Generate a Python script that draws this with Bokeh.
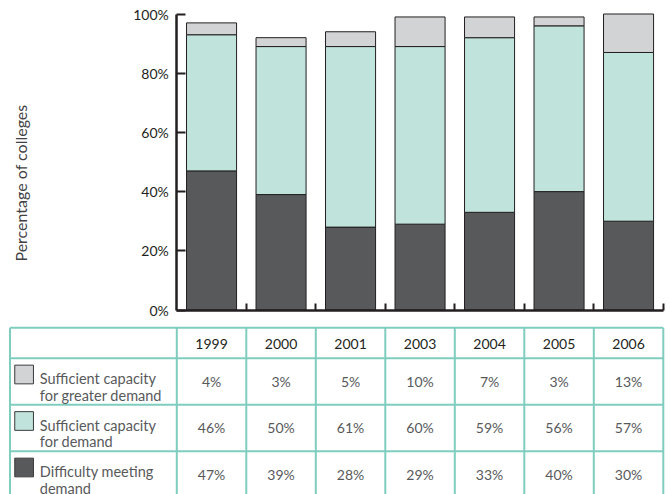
from bokeh.plotting import figure
from bokeh.models import Range1d, FixedTicker, Label, LinearAxis
from bokeh.embed import file_html
from bokeh.resources import INLINE
from bokeh.core.properties import value

# ---- data ----
years = ["1999", "2000", "2001", "2003", "2004", "2005", "2006"]
greater_demand = [4, 3, 5, 10, 7, 3, 13]
sufficient_demand = [46, 50, 61, 60, 59, 56, 57]
difficulty = [47, 39, 28, 29, 33, 40, 30]
series_line1 = ["Sufficient capacity", "Sufficient capacity", "Difficulty meeting"]
series_line2 = ["for greater demand", "for demand", "demand"]
y_ticks = [0, 20, 40, 60, 80, 100]
y_tick_labels = ["0%", "20%", "40%", "60%", "80%", "100%"]
y_title = "Percentage of colleges"

# ---- styles ----
FONT = "Lato"
C_TOP = "#d1d3d4"
C_MID = "#c0e3dc"
C_BOT = "#58595b"
C_EDGE = "#231f20"
C_GRID = "#7fcdbf"
C_TXT = "#231f20"
C_GRAY = "#58595b"

n = len(years)
xs = [i + 0.5 for i in range(n)]

W, H = 670, 494
# horizontal scale: category boundary 0 sits 176.3 px from the left, 69.5 px per category
px_per_cat = 69.5
x0_from_left = 176.3
# percent scale: 0% sits 309.5 px below the top, 2.96 px per percent
px_per_pct = 2.96
zero_from_top = 309.5
p = figure(width=W, height=H,
           x_range=Range1d(-x0_from_left / px_per_cat, (W - x0_from_left) / px_per_cat),
           y_range=Range1d(-(H - zero_from_top) / px_per_pct, zero_from_top / px_per_pct),
           output_backend="svg", toolbar_location=None,
           x_axis_type=None, y_axis_type=None,
           min_border_left=0, min_border_right=0, min_border_top=0, min_border_bottom=0)
p.outline_line_color = None
p.xgrid.grid_line_color = None
p.ygrid.grid_line_color = None
p.background_fill_color = "white"
p.border_fill_color = "white"
# table scale: pixels from the top, downward
p.extra_y_ranges = {"table": Range1d(H, 0)}

# ---- bars ----
b1 = difficulty
b2 = [a + b for a, b in zip(difficulty, sufficient_demand)]
b3 = [a + b for a, b in zip(b2, greater_demand)]
p.vbar(x=xs, width=0.72, bottom=0, top=b1, fill_color=C_BOT, line_color=C_EDGE, line_width=1)
p.vbar(x=xs, width=0.72, bottom=b1, top=b2, fill_color=C_MID, line_color=C_EDGE, line_width=1)
p.vbar(x=xs, width=0.72, bottom=b2, top=b3, fill_color=C_TOP, line_color=C_EDGE, line_width=1)

ya = LinearAxis(fixed_location=0, bounds=(0, 100))
ya.ticker = FixedTicker(ticks=y_ticks)
ya.major_label_overrides = {t: l for t, l in zip(y_ticks, y_tick_labels)}
ya.axis_line_width = 2.5
ya.axis_line_color = C_EDGE
ya.major_tick_in = 9
ya.major_tick_out = 0
ya.major_tick_line_width = 2
ya.major_tick_line_color = C_EDGE
ya.minor_tick_line_color = None
ya.major_label_standoff = 8
ya.major_label_text_font = FONT
ya.major_label_text_font_size = "14px"
ya.major_label_text_color = C_TXT
p.add_layout(ya, "left")

xa = LinearAxis(fixed_location=0, bounds=(0, n))
xa.ticker = FixedTicker(ticks=list(range(1, n + 1)))
xa.axis_line_width = 2.5
xa.axis_line_color = C_EDGE
xa.major_tick_in = 7
xa.major_tick_out = 0
xa.major_tick_line_width = 2
xa.major_tick_line_color = C_EDGE
xa.minor_tick_line_color = None
xa.major_label_text_color = None
xa.major_label_standoff = 0
p.add_layout(xa, "below")

p.add_layout(Label(x=-2.249, y=42.9, text=y_title, angle=1.5707963, text_align="center",
                   text_baseline="middle", text_font=FONT, text_font_size="16px",
                   text_color="#414143"))

# ---- table ----
label_left = -2.4
table_top = 327.3
header_h = 30.4
row_h = 46.5
row_tops = [table_top + header_h + k * row_h for k in range(3)]
h_lines = [table_top] + row_tops + [row_tops[-1] + row_h]
v_lines = [label_left] + list(range(0, n + 1))
table_bottom = h_lines[-1]

p.segment(x0=[label_left] * len(h_lines), y0=h_lines, x1=[n] * len(h_lines), y1=h_lines,
          line_color=C_GRID, line_width=2, y_range_name="table")
p.segment(x0=v_lines, y0=[table_top] * len(v_lines), x1=v_lines, y1=[table_bottom] * len(v_lines),
          line_color=C_GRID, line_width=2, y_range_name="table")

p.text(x=xs, y=[table_top + header_h / 2 + 1] * n, text=years, text_align="center",
       text_baseline="middle", text_font=value(FONT), text_font_size="14px", text_color=C_TXT,
       y_range_name="table")

row_values = [greater_demand, sufficient_demand, difficulty]
row_colors = [C_TOP, C_MID, C_BOT]
for k in range(3):
    top = row_tops[k]
    p.rect(x=[-2.197], y=[top + 16.3], width=0.269, height=18.7, fill_color=row_colors[k],
           line_color="#3a3a3c", line_width=1, y_range_name="table")
    p.text(x=[-1.971], y=[top + 20.3], text=[series_line1[k]], text_align="left",
           text_baseline="alphabetic", text_font=value(FONT), text_font_size="14.5px",
           text_color=C_GRAY, y_range_name="table")
    p.text(x=[-1.971], y=[top + 37.2], text=[series_line2[k]], text_align="left",
           text_baseline="alphabetic", text_font=value(FONT), text_font_size="14.5px",
           text_color=C_GRAY, y_range_name="table")
    p.text(x=xs, y=[top + row_h / 2] * n, text=[f"{v}%" for v in row_values[k]],
           text_align="center", text_baseline="middle", text_font=value(FONT),
           text_font_size="14px", text_color=C_GRAY, y_range_name="table")

open("out.html", "w").write(file_html(p, INLINE))
